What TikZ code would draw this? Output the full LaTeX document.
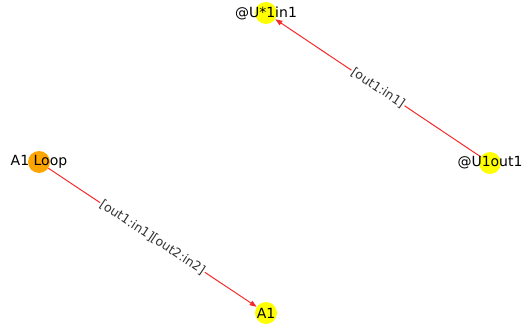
\documentclass[tikz,border=0pt]{standalone}
\usepackage{fontspec}
\setmainfont{DejaVu Sans}
\usetikzlibrary{arrows.meta}
\definecolor{cyellow}{HTML}{FFFF00}
\definecolor{corange}{HTML}{FFA500}
\definecolor{cred}{HTML}{F52A2A}
\tikzset{
  dot/.style={circle, fill=#1, minimum size=22pt, inner sep=0pt},
  dot/.default=cyellow,
  lbl/.style={font=\fontsize{14}{16}\selectfont, inner sep=0pt},
  link/.style={-{Triangle[length=7pt, width=5pt]}, draw=cred, line width=1pt},
  elabel/.style={font=\fontsize{12.5}{14}\selectfont, fill=white, text=black!80, inner sep=1pt, sloped},
}

\begin{document}
\begin{tikzpicture}[x=1pt, y=-1pt]
  \useasboundingbox (0,0) rectangle (523,329);
  \node[dot] (Uin) at (266,13) {};
  \node[dot=corange] (loop) at (39,162) {};
  \node[dot] (Uout) at (490,163) {};
  \node[dot] (A1) at (266,313) {};
  \draw[link] (Uout) -- node[elabel] {[out1:in1]} (Uin);
  \draw[link] (loop) -- node[elabel] {[out1:in1][out2:in2]} (A1);
  \node[lbl] at (Uin) {@U*1in1};
  \node[lbl] at (loop) {A1 Loop};
  \node[lbl] at (Uout) {@U1out1};
  \node[lbl] at (A1) {A1};
\end{tikzpicture}
\end{document}
